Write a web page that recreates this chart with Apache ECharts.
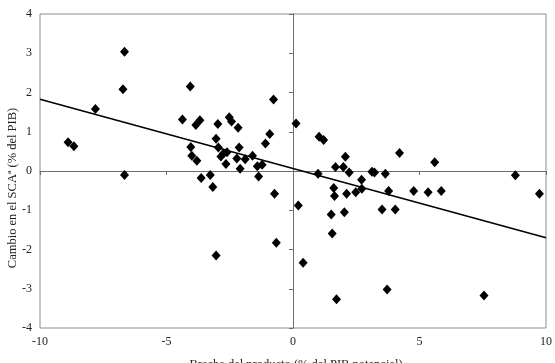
<!DOCTYPE html>
<html>
<head>
<meta charset="utf-8">
<script src="https://cdn.jsdelivr.net/npm/echarts@6/dist/echarts.min.js"></script>
<style>html,body{margin:0;padding:0;background:#fff}#c{width:555px;height:363px}</style>
</head>
<body>
<div id="c"></div>
<script>
// Data
var xTicks = [-10, -5, 0, 5, 10];
var yTicks = [-4, -3, -2, -1, 0, 1, 2, 3, 4];
var gapX = [-8.89,-8.66,-7.81,-6.66,-6.72,-6.66,-4.37,-4.06,-4.04,-4.0,-3.84,-3.80,-3.68,-3.63,-3.27,-3.17,-3.04,-2.97,-3.04,-2.95,-2.85,-2.74,-2.61,-2.65,-2.52,-2.43,-2.17,-2.13,-2.22,-2.09,-1.89,-1.60,-1.41,-1.22,-1.36,-1.09,-0.92,-0.77,-0.73,-0.66,
  0.12,0.21,0.40,0.99,1.03,1.21,1.68,1.99,2.07,2.22,1.61,1.64,1.51,1.55,1.72,2.03,2.12,2.48,2.71,2.72,3.12,3.22,3.52,3.65,3.78,3.72,4.04,4.21,4.77,5.34,5.60,5.86,7.55,8.79,9.74];
var scaY = [0.73,0.63,1.58,3.04,2.08,-0.10,1.31,2.15,0.61,0.39,1.17,0.26,1.29,-0.18,-0.10,-0.41,-2.15,1.20,0.82,0.60,0.37,0.45,0.48,0.18,1.37,1.26,1.10,0.60,0.32,0.06,0.30,0.39,0.12,0.16,-0.14,0.70,0.94,1.82,-0.58,-1.83,
  1.21,-0.88,-2.34,-0.07,0.87,0.79,0.10,0.10,0.36,-0.04,-0.43,-0.64,-1.11,-1.59,-3.27,-1.05,-0.58,-0.54,-0.22,-0.45,-0.02,-0.04,-0.98,-0.07,-0.51,-3.02,-0.98,0.46,-0.51,-0.54,0.22,-0.51,-3.17,-0.11,-0.58];
var trendX = [-10, 10];
var trendY = [1.83, -1.70];
var yTitle = 'Cambio en el SCAª (% del PIB)';
var xTitle = 'Brecha del producto (% del PIB potencial)';

var pts = gapX.map(function (x, i) { return [x, scaY[i]]; });
var trend = trendX.map(function (x, i) { return [x, trendY[i]]; });
var font = 'Liberation Serif';

var chart = echarts.init(document.getElementById('c'), null, {renderer: 'canvas'});
chart.setOption({
  animation: false,
  backgroundColor: '#fff',
  grid: {left: 40, right: 2, top: 14, bottom: 35, show: true, borderColor: '#8c8c8c', borderWidth: 1, containLabel: false},
  xAxis: [
    {type: 'value', min: xTicks[0], max: xTicks[xTicks.length - 1], interval: 5, position: 'bottom',
     axisLine: {show: false, onZero: false}, axisTick: {show: false}, splitLine: {show: false},
     axisLabel: {fontFamily: font, fontSize: 12, color: '#222', margin: 8}},
    {type: 'value', min: xTicks[0], max: xTicks[xTicks.length - 1], interval: 5, position: 'top',
     axisLine: {show: true, onZero: true, onZeroAxisIndex: 0, lineStyle: {color: '#6e6e6e', width: 1}},
     axisTick: {show: true, inside: true, length: 4, lineStyle: {color: '#6e6e6e'}},
     axisLabel: {show: false}, splitLine: {show: false}}
  ],
  yAxis: [
    {type: 'value', min: yTicks[0], max: yTicks[yTicks.length - 1], interval: 1, position: 'left',
     axisLine: {show: false, onZero: false}, axisTick: {show: false}, splitLine: {show: false},
     axisLabel: {fontFamily: font, fontSize: 12, color: '#222', margin: 8}},
    {type: 'value', min: yTicks[0], max: yTicks[yTicks.length - 1], interval: 1, position: 'right',
     axisLine: {show: true, onZero: true, onZeroAxisIndex: 0, lineStyle: {color: '#6e6e6e', width: 1}},
     axisTick: {show: true, inside: true, length: 4, lineStyle: {color: '#6e6e6e'}},
     axisLabel: {show: false}, splitLine: {show: false}}
  ],
  series: [
    {type: 'scatter', xAxisIndex: 0, yAxisIndex: 0, data: pts, symbol: 'diamond', symbolSize: [9, 10],
     itemStyle: {color: '#000', opacity: 1}, z: 3},
    {type: 'line', xAxisIndex: 0, yAxisIndex: 0, data: trend, showSymbol: false, symbol: 'none',
     lineStyle: {color: '#000', width: 1.5}, z: 4}
  ],
  graphic: [
    {type: 'text', x: 13, y: 188, rotation: Math.PI / 2,
     style: {text: yTitle, fontFamily: font, fontSize: 12.5, fill: '#222', textAlign: 'center', textVerticalAlign: 'middle'}},
    {type: 'text', x: 296, y: 358,
     style: {text: xTitle, fontFamily: font, fontSize: 12.5, fill: '#222', textAlign: 'center', textVerticalAlign: 'top'}}
  ]
});
</script>
</body>
</html>
